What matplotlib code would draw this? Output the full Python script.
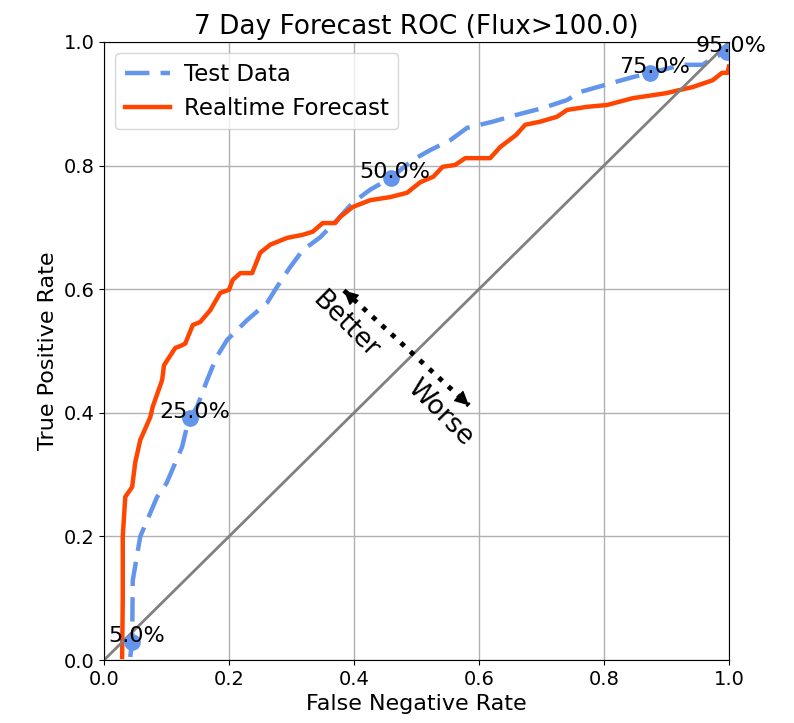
import numpy as np
import matplotlib.pyplot as plt

# Test data ROC curve
test_fnr = [0.042, 0.045, 0.046, 0.058, 0.069, 0.085, 0.100, 0.114, 0.125, 0.134, 0.138,
            0.149, 0.165, 0.180, 0.197, 0.229, 0.261, 0.277, 0.298, 0.318, 0.346, 0.373,
            0.398, 0.426, 0.459, 0.494, 0.522, 0.554, 0.581, 0.622, 0.660, 0.702, 0.741,
            0.762, 0.814, 0.846, 0.874, 0.926, 0.958, 0.974, 0.997]
test_tpr = [0.005, 0.030, 0.129, 0.200, 0.226, 0.264, 0.286, 0.319, 0.345, 0.383, 0.392,
            0.410, 0.453, 0.490, 0.518, 0.550, 0.578, 0.604, 0.636, 0.663, 0.684, 0.712,
            0.740, 0.761, 0.780, 0.809, 0.825, 0.841, 0.861, 0.871, 0.882, 0.893, 0.906,
            0.919, 0.934, 0.943, 0.950, 0.963, 0.963, 0.974, 0.984]

# Realtime forecast ROC curve
rt_fnr = [0.029, 0.030, 0.030, 0.034, 0.045, 0.050, 0.058, 0.074, 0.078, 0.093, 0.096,
          0.114, 0.122, 0.130, 0.142, 0.154, 0.170, 0.186, 0.200, 0.206, 0.218, 0.237,
          0.250, 0.266, 0.293, 0.318, 0.334, 0.350, 0.370, 0.378, 0.398, 0.426, 0.458,
          0.485, 0.506, 0.527, 0.542, 0.562, 0.578, 0.618, 0.634, 0.660, 0.674, 0.698,
          0.725, 0.741, 0.773, 0.805, 0.846, 0.899, 0.942, 0.974, 0.989, 0.998, 1.000]
rt_tpr = [0.005, 0.100, 0.200, 0.264, 0.280, 0.320, 0.356, 0.393, 0.410, 0.453, 0.477,
          0.505, 0.508, 0.512, 0.542, 0.547, 0.566, 0.594, 0.599, 0.615, 0.626, 0.626,
          0.659, 0.672, 0.683, 0.688, 0.693, 0.707, 0.707, 0.717, 0.733, 0.744, 0.749,
          0.756, 0.773, 0.782, 0.798, 0.801, 0.812, 0.812, 0.830, 0.850, 0.866, 0.871,
          0.879, 0.890, 0.895, 0.898, 0.909, 0.917, 0.927, 0.938, 0.950, 0.950, 0.960]

# threshold markers on the test curve
thresh_labels = ["5.0%", "25.0%", "50.0%", "75.0%", "95.0%"]
thresh_fnr = [0.045, 0.138, 0.459, 0.874, 0.997]
thresh_tpr = [0.030, 0.392, 0.780, 0.950, 0.984]

fig = plt.figure(figsize=(7.94, 7.23), dpi=100)
ax = fig.add_axes([0.131, 0.087, 0.787, 0.855])

ax.plot(test_fnr, test_tpr, "--", color="cornflowerblue", lw=3.2, dashes=(5.5, 2.5),
        label="Test Data")
ax.plot(rt_fnr, rt_tpr, "-", color="orangered", lw=3.2, label="Realtime Forecast")
ax.plot([0, 1], [0, 1], color="gray", lw=2)
ax.plot(thresh_fnr, thresh_tpr, "o", color="cornflowerblue", ms=11)
for lab, x, y in zip(thresh_labels, thresh_fnr, thresh_tpr):
    ax.annotate(lab, (x, y), xytext=(3, 0), textcoords="offset points",
                ha="center", va="baseline", fontsize=16, annotation_clip=False)

# better / worse arrow: dotted shaft, solid heads
better_end = (0.384, 0.598)
worse_end = (0.584, 0.412)
ax.plot([better_end[0], worse_end[0]], [better_end[1], worse_end[1]], ":",
        color="black", lw=3.5)
for tip, base in [(better_end, worse_end), (worse_end, better_end)]:
    bx = tip[0] + 0.04 * (base[0] - tip[0])
    by = tip[1] + 0.04 * (base[1] - tip[1])
    ax.annotate("", xy=tip, xytext=(bx, by),
                arrowprops=dict(arrowstyle="-|>", color="black", lw=1,
                                mutation_scale=22, shrinkA=0, shrinkB=0))
ax.text(0.386, 0.542, "Better", rotation=-45, ha="center", va="center", fontsize=19)
ax.text(0.538, 0.400, "Worse", rotation=-45, ha="center", va="center", fontsize=19)

ax.set_xlim(0, 1)
ax.set_ylim(0, 1)
ax.grid(True, color="#b0b0b0", lw=1)
ax.set_xlabel("False Negative Rate", fontsize=16)
ax.set_ylabel("True Positive Rate", fontsize=16)
ax.set_title("7 Day Forecast ROC (Flux>100.0)", fontsize=19)
ax.tick_params(labelsize=14)
ax.legend(loc="upper left", fontsize=16.5, handletextpad=0.6)

fig.savefig("out.png", dpi=100)
